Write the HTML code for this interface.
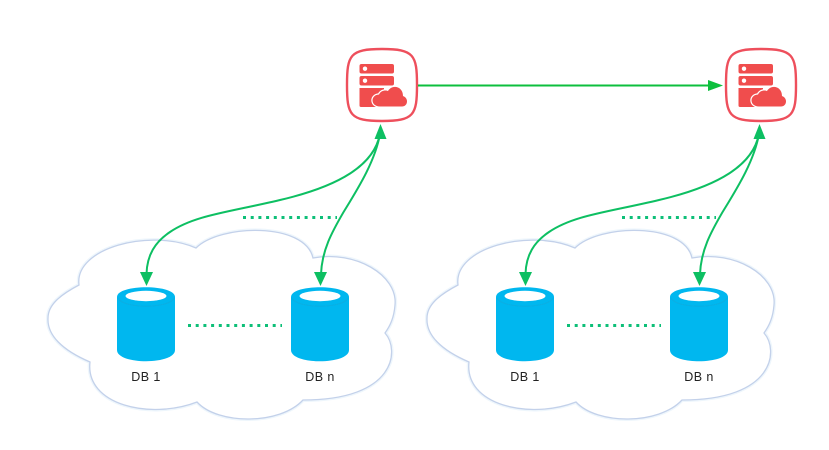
<!DOCTYPE html>
<html><head><meta charset="utf-8"><style>
html,body{margin:0;padding:0;background:#fff;width:829px;height:450px;overflow:hidden}
svg{display:block}
text{font-family:"Liberation Sans",sans-serif;font-size:12.500px;fill:#222;letter-spacing:.4px}
</style></head><body>
<svg width="829" height="450" viewBox="0 0 829 450" xmlns="http://www.w3.org/2000/svg">
<defs>
<filter id="soft" x="-5%" y="-5%" width="110%" height="110%"><feGaussianBlur stdDeviation="0.300"/></filter>
<path id="cl" d="M79,285 C74,248 150,228 196,248 C220,224 305,222 313,258 C355,250 398,275 395,305 C394,318 390,326 385,333 C400,350 396,400 303,400 C280,425 218,425 197,402 C150,420 85,405 90,362 C62,350 47,335 48,318 C48,305 60,295 79,285 Z"/>
<g id="db">
<path d="M0,10 C0,-3 58,-3 58,10 V63 C58,78 0,78 0,63 Z" fill="#00b7ef"/>
<path d="M1,11 C6,22 52,22 57,11" fill="none" stroke="#09aee2" stroke-width="1"/>
<ellipse cx="29" cy="9" rx="20.500" ry="5.200" fill="#fff"/>
</g>
<g id="server">
<path d="M347,85 C347,55 350,49 382,49 C414,49 417,55 417,85 C417,115 414,121 382,121 C350,121 347,115 347,85 Z" fill="#fff" stroke="#ee4f5c" stroke-width="2.400"/>
<rect x="359.500" y="64" width="34.500" height="9.500" rx="2" fill="#f04e4e"/>
<rect x="359.500" y="76" width="34.500" height="9.500" rx="2" fill="#f04e4e"/>
<path d="M359.500,88 H384 V107 H361 a1.500,1.500 0 0 1 -1.500,-1.500 Z" fill="#f04e4e"/>
<circle cx="365" cy="68.700" r="2.200" fill="#fff"/>
<circle cx="365" cy="80.700" r="2.200" fill="#fff"/>
<path d="M380,106.500 C370.500,106.500 370,95 379,94.500 C381,90 386,90 388,91 C392,84 403,86 403,96 C409,98 408,106.500 402,106.500 Z" fill="#f04e4e" stroke="#fff" stroke-width="2.500" paint-order="stroke"/>
</g>
<g id="group">
<use href="#cl" fill="none" stroke="#eef6fc" stroke-width="4"/>
<use href="#cl" fill="#fff" stroke="#c3d1ea" stroke-width="1.300"/>
<use href="#db" x="117" y="287"/>
<use href="#db" x="291" y="287"/>
<text x="146" y="381" text-anchor="middle">DB 1</text>
<text x="320" y="381" text-anchor="middle">DB n</text>
<path d="M188,325.500 H282" stroke="#0dbf78" stroke-width="3" stroke-dasharray="3 4.700" fill="none"/>
<path d="M243,217.500 H337" stroke="#0dbf78" stroke-width="3" stroke-dasharray="3 4.700" fill="none"/>
<path d="M380,134 C374,165 340,186 280,200 C230,212 195,215 170,232 C155,242 147,255 146.500,274" fill="none" stroke="#0cbf62" stroke-width="2"/>
<path d="M380,134 C375,162 357,190 343,213 C332,232 322,250 321,274" fill="none" stroke="#0cbf62" stroke-width="2"/>
<path d="M380.500,124 L386.500,139 H374.500 Z" fill="#0cbf62"/>
<path d="M146.500,286 L140,272 H153 Z" fill="#0cbf62"/>
<path d="M320.500,286 L314,272 H327 Z" fill="#0cbf62"/>
<use href="#server"/>
</g>
</defs>
<g filter="url(#soft)">
<use href="#group"/>
<use href="#group" x="379"/>
<path d="M418,85.500 H710" stroke="#0cbf3e" stroke-width="2" fill="none"/>
<path d="M723,85.500 L708,80 V91 Z" fill="#0cbf3e"/>
</g>
</svg>
</body></html>
